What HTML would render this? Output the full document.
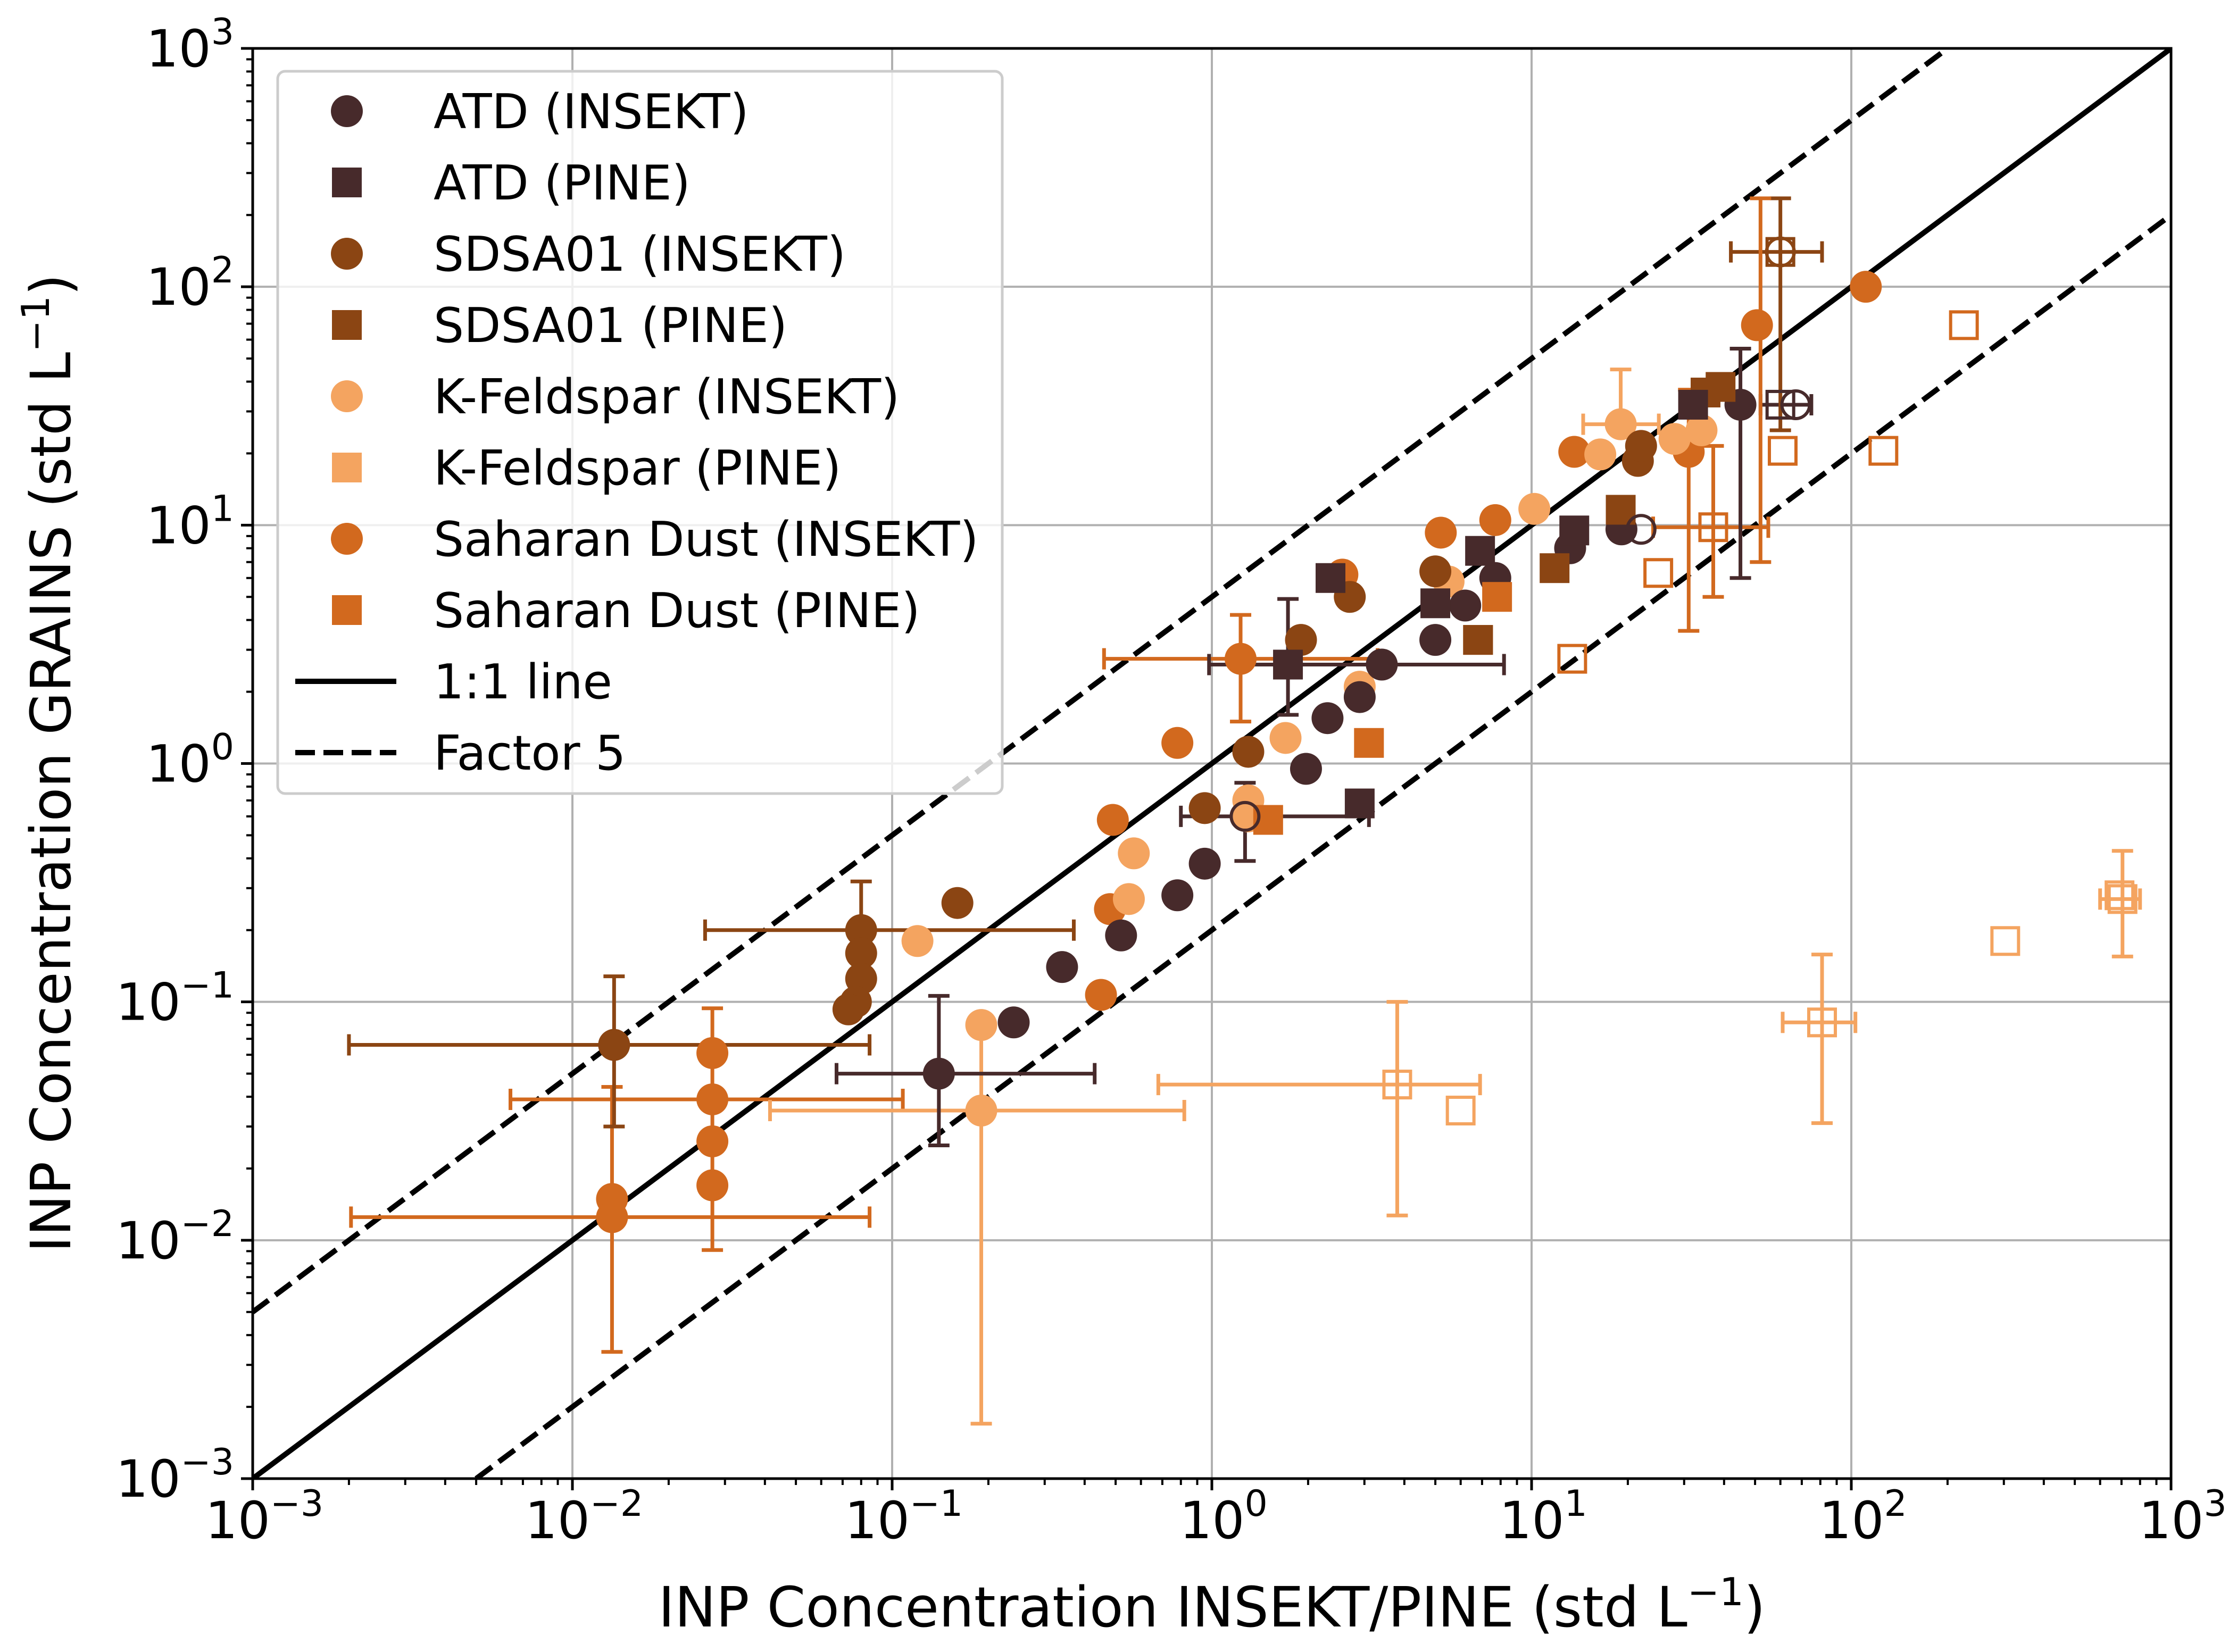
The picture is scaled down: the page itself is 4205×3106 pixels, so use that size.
<!DOCTYPE html>
<html><head><meta charset="utf-8"><style>
html,body{margin:0;padding:0;background:#fff;}
svg{display:block;font-family:"DejaVu Sans","Liberation Sans",sans-serif;}
</style></head><body>
<svg id="chart" width="4205" height="3106" viewBox="0 0 4205 3106" xmlns="http://www.w3.org/2000/svg">
<rect x="0" y="0" width="4205" height="3106" fill="#fff"/>
<g id="grid"></g>
<g id="lines"></g>
<g id="errs"></g>
<g id="marks"></g>
<g id="axes"></g>
<g id="legend"></g>
</svg>
<script>
// ---- data (x = INSEKT/PINE, y = GRAINS, std L^-1) ----
const atdInsektX = [0.14,0.24,0.34,0.52,0.78,0.95,1.97,2.3,2.9,3.4,5.0,6.2,7.7,13.2,19.1,45];
const atdInsektY = [0.05,0.082,0.14,0.19,0.28,0.38,0.95,1.55,1.9,2.6,3.3,4.6,6.0,8.0,9.6,32];
const atdInsektOpenX = [1.27,22,67];
const atdInsektOpenY = [0.6,9.6,32];
const atdPineX = [1.73,2.35,5.0,6.9,13.6,32,2.9];
const atdPineY = [2.6,6.0,4.7,7.8,9.5,32,0.68];
const atdPineOpenX = [60];
const atdPineOpenY = [32];
const sdsaInsektX = [0.0135,0.08,0.08,0.08,0.077,0.073,0.16,0.95,1.3,1.9,2.7,5.0,21.5,22];
const sdsaInsektY = [0.066,0.2,0.16,0.125,0.1,0.093,0.26,0.65,1.12,3.3,5.0,6.4,18.6,21.5];
const sdsaInsektOpenX = [60];
const sdsaInsektOpenY = [140];
const sdsaPineX = [11.8,19,35,39,6.8];
const sdsaPineY = [6.6,11.6,36,38,3.3];
const sdsaPineOpenX = [60];
const sdsaPineOpenY = [140];
const kfInsektX = [0.12,0.19,0.19,0.55,0.57,1.3,1.3,1.7,2.9,5.5,10.2,19,16.4,28,34];
const kfInsektY = [0.18,0.08,0.035,0.27,0.42,0.7,0.6,1.28,2.1,5.8,11.7,26.5,19.8,23,25];
const kfPineOpenX = [3.8,6.0,81,303,705,690];
const kfPineOpenY = [0.045,0.035,0.082,0.18,0.27,0.28];
const sdInsektX = [0.0133,0.0133,0.0274,0.0274,0.0274,0.0274,0.45,0.48,0.49,0.78,1.23,2.56,5.2,7.7,13.6,31,50.7,111];
const sdInsektY = [0.0149,0.0125,0.061,0.039,0.026,0.017,0.107,0.245,0.58,1.22,2.75,6.2,9.3,10.5,20.3,20.3,69,100];
const sdPineX = [3.1,1.5,7.8,6.8];
const sdPineY = [1.22,0.58,5.0,3.3];
const sdPineOpenX = [13.4,24.9,37,61,126,225];
const sdPineOpenY = [2.75,6.3,9.8,20.5,20.5,69];
// error bars: [x, y, xlo, xhi, ylo, yhi, colorIndex]
const errSeriesColor = ["#472a2b","#8b4513","#f4a460","#d2691e"];
const errX   = [0.0133,0.0274,0.0274,1.23,31,0.19,3.8,81,705,19,37,0.14,1.27,45,67,1.73,0.0135,0.08,60,52];
const errY   = [0.0125,0.039,0.061,2.75,20.3,0.035,0.045,0.082,0.27,26.5,9.8,0.05,0.6,32,32,2.6,0.066,0.2,140,70];
const errXlo = [0.00203,0.0064,0.0274,0.46,31,0.0415,0.68,61,600,14.5,24,0.067,0.8,45,52,0.98,0.002,0.026,42,52];
const errXhi = [0.085,0.108,0.0274,3.3,31,0.82,6.9,103,800,25,55,0.43,3.1,45,75,8.2,0.085,0.37,81,52];
const errYlo = [0.0034,0.039,0.0091,1.5,3.6,0.0017,0.0127,0.031,0.155,26.5,5,0.025,0.39,6,32,1.6,0.03,0.128,25,7];
const errYhi = [0.044,0.039,0.094,4.2,37,0.085,0.1,0.158,0.43,45,21.5,0.106,0.83,55,32,4.9,0.128,0.32,235,235];
const errC   = [3,3,3,3,3,2,2,2,2,2,3,0,0,0,0,0,1,1,1,3];
const tickExps = [-3,-2,-1,0,1,2,3];

// ---- layout ----
const L=475,R=4081,T=91,B=2780;
const NS="http://www.w3.org/2000/svg";
const xs=v=>L+(Math.log10(v)+3)/6*(R-L);
const ys=v=>B-(Math.log10(v)+3)/6*(B-T);
function mk(tag,attrs,parent){const e=document.createElementNS(NS,tag);for(const k in attrs)e.setAttribute(k,attrs[k]);parent.appendChild(e);return e;}
const gGrid=document.getElementById('grid'),gLines=document.getElementById('lines'),gErr=document.getElementById('errs'),gMarks=document.getElementById('marks'),gAxes=document.getElementById('axes'),gLeg=document.getElementById('legend');

// grid
tickExps.forEach(e=>{
  const v=Math.pow(10,e);
  const a=mk('line',{x1:xs(v),x2:xs(v),y1:T,y2:B,stroke:'#b0b0b0','stroke-width':4},gGrid);
  
  
  const b=mk('line',{x1:L,x2:R,y1:ys(v),y2:ys(v),stroke:'#b0b0b0','stroke-width':4},gGrid);
  
  
});

// reference lines
const clip=mk('clipPath',{id:'pc'},document.getElementById('chart'));
mk('rect',{x:L,y:T,width:R-L,height:B-T},clip);
gLines.setAttribute('clip-path','url(#pc)');
gErr.setAttribute('clip-path','url(#pc)');
gMarks.setAttribute('clip-path','url(#pc)');
const one=mk('line',{x1:xs(0.001),y1:ys(0.001),x2:xs(1000),y2:ys(1000),stroke:'#000','stroke-width':10},gLines);


const f5a=mk('line',{x1:xs(0.001),y1:ys(0.005),x2:xs(200),y2:ys(1000),stroke:'#000','stroke-width':10,'stroke-dasharray':'37 16'},gLines);


const f5b=mk('line',{x1:xs(0.005),y1:ys(0.001),x2:xs(1000),y2:ys(200),stroke:'#000','stroke-width':10,'stroke-dasharray':'37 16'},gLines);



// error bars
const cap=20;
for(let i=0;i<errX.length;i++){
  const c=errSeriesColor[errC[i]];
  const g=mk('g',{stroke:c,'stroke-width':7},gErr);
  
  
  const x=xs(errX[i]),y=ys(errY[i]);
  if(errXlo[i]!==errXhi[i]){
    const x1=xs(errXlo[i]),x2=xs(errXhi[i]);
    mk('line',{x1:x1,x2:x2,y1:y,y2:y},g);
    mk('line',{x1:x1,x2:x1,y1:y-cap,y2:y+cap},g);
    mk('line',{x1:x2,x2:x2,y1:y-cap,y2:y+cap},g);
  }
  if(errYlo[i]!==errYhi[i]){
    const y1=ys(errYlo[i]),y2=ys(errYhi[i]);
    mk('line',{x1:x,x2:x,y1:y1,y2:y2},g);
    mk('line',{x1:x-cap,x2:x+cap,y1:y1,y2:y1},g);
    mk('line',{x1:x-cap,x2:x+cap,y1:y2,y2:y2},g);
  }
}

// markers
function circles(X,Y,color,filled,name){
  for(let i=0;i<X.length;i++){
    const c=mk('circle',{cx:xs(X[i]),cy:ys(Y[i]),r:filled?30:26,fill:filled?color:'none',stroke:color,'stroke-width':filled?0:6},gMarks);
    
    
  }
}
function squares(X,Y,color,filled,name){
  for(let i=0;i<X.length;i++){
    const s=filled?56:50;
    const r=mk('rect',{x:xs(X[i])-s/2,y:ys(Y[i])-s/2,width:s,height:s,fill:filled?color:'none',stroke:color,'stroke-width':filled?0:6},gMarks);
    
    
  }
}
circles(sdInsektX,sdInsektY,'#d2691e',true,'saharan-insekt-point');
circles(kfInsektX,kfInsektY,'#f4a460',true,'kfeldspar-insekt-point');
circles(sdsaInsektX,sdsaInsektY,'#8b4513',true,'sdsa01-insekt-point');
circles(atdInsektX,atdInsektY,'#472a2b',true,'atd-insekt-point');
squares(sdPineX,sdPineY,'#d2691e',true,'saharan-pine-point');
squares(sdsaPineX,sdsaPineY,'#8b4513',true,'sdsa01-pine-point');
squares(atdPineX,atdPineY,'#472a2b',true,'atd-pine-point');
squares(sdPineOpenX,sdPineOpenY,'#d2691e',false,'saharan-pine-open-point');
squares(kfPineOpenX,kfPineOpenY,'#f4a460',false,'kfeldspar-pine-open-point');
squares(atdPineOpenX,atdPineOpenY,'#472a2b',false,'atd-pine-open-point');
squares(sdsaPineOpenX,sdsaPineOpenY,'#8b4513',false,'sdsa01-pine-open-point');
circles(atdInsektOpenX,atdInsektOpenY,'#472a2b',false,'atd-insekt-open-point');
circles(sdsaInsektOpenX,sdsaInsektOpenY,'#8b4513',false,'sdsa01-insekt-open-point');

// axes frame & ticks
const fr=mk('rect',{x:L,y:T,width:R-L,height:B-T,fill:'none',stroke:'#000','stroke-width':5},gAxes);


function supLabel(x,y,anchor,exp,name){
  const t=mk('text',{x:x,y:y,'text-anchor':anchor,'font-size':96,fill:'#000'},gAxes);
  
  
  const a=mk('tspan',{},t);a.textContent='10';
  const b=mk('tspan',{dy:-42,'font-size':68},t);b.textContent=(exp<0?'\u2212':'')+Math.abs(exp);
}
tickExps.forEach(e=>{
  const v=Math.pow(10,e);
  mk('line',{x1:xs(v),x2:xs(v),y1:B,y2:B+22,stroke:'#000','stroke-width':5},gAxes);
  mk('line',{x1:L,x2:L-22,y1:ys(v),y2:ys(v),stroke:'#000','stroke-width':5},gAxes);
  supLabel(xs(v)+22,B+112,'middle',e,'x-tick-label');
  supLabel(L-35,ys(v)+34,'end',e,'y-tick-label');
  if(e<3){for(let k=2;k<10;k++){const m=v*k;
    mk('line',{x1:xs(m),x2:xs(m),y1:B,y2:B+12,stroke:'#000','stroke-width':4},gAxes);
    mk('line',{x1:L,x2:L-12,y1:ys(m),y2:ys(m),stroke:'#000','stroke-width':4},gAxes);}}
});
const xl=mk('text',{x:2278,y:3058,'text-anchor':'middle','font-size':104},gAxes);


xl.innerHTML='INP Concentration INSEKT/PINE (std L<tspan dy="-40" font-size="72">\u22121</tspan><tspan dy="40">)</tspan>';
const yl=mk('text',{x:0,y:0,'text-anchor':'middle','font-size':104,transform:'translate(132,1435) rotate(-90)'},gAxes);


yl.innerHTML='INP Concentration GRAINS (std L<tspan dy="-40" font-size="72">\u22121</tspan><tspan dy="40">)</tspan>';

// legend
const lb=mk('rect',{x:522,y:134,width:1362,height:1358,rx:14,fill:'#fff','fill-opacity':0.8,stroke:'#cccccc','stroke-width':5},gLeg);


const legNames=['ATD (INSEKT)','ATD (PINE)','SDSA01 (INSEKT)','SDSA01 (PINE)','K-Feldspar (INSEKT)','K-Feldspar (PINE)','Saharan Dust (INSEKT)','Saharan Dust (PINE)','1:1 line','Factor 5'];
const legCols=['#472a2b','#472a2b','#8b4513','#8b4513','#f4a460','#f4a460','#d2691e','#d2691e','#000','#000'];
legNames.forEach((n,i)=>{
  const y=209+i*134;
  const g=mk('g',{},gLeg);
  
  
  if(i<8){
    if(i%2===0) mk('circle',{cx:652,cy:y,r:30,fill:legCols[i]},g);
    else mk('rect',{x:624,y:y-28,width:56,height:56,fill:legCols[i]},g);
  } else {
    mk('line',{x1:555,x2:745,y1:y,y2:y,stroke:'#000','stroke-width':10,'stroke-dasharray':i===9?'37 16':'none'},g);
  }
  const t=mk('text',{x:815,y:y+32,'font-size':90,fill:'#000'},g);
  t.textContent=n;
});
</script>
</body></html>
